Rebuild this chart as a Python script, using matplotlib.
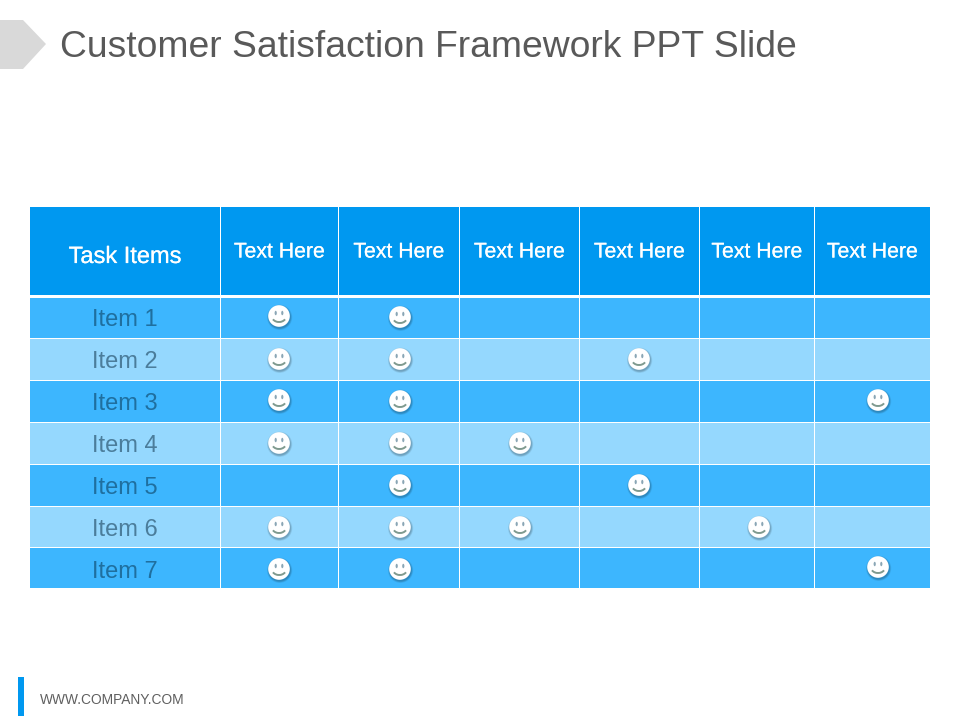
import matplotlib
matplotlib.use("Agg")
import matplotlib.pyplot as plt
import matplotlib.patheffects as pe
from matplotlib.patches import Rectangle, Circle, Polygon, Arc, Ellipse
from matplotlib.colors import to_rgb

plt.rcParams['font.family'] = ['Liberation Sans', 'DejaVu Sans']

title = "Customer Satisfaction Framework PPT Slide"
footer = "WWW.COMPANY.COM"
corner_label = "Task Items"
col_labels = ["Text Here"] * 6
row_labels = ["Item 1", "Item 2", "Item 3", "Item 4", "Item 5", "Item 6", "Item 7"]
# 1 = smiley in that cell
marks = [
    [1, 1, 0, 0, 0, 0],
    [1, 1, 0, 1, 0, 0],
    [1, 1, 0, 0, 0, 1],
    [1, 1, 1, 0, 0, 0],
    [0, 1, 0, 1, 0, 0],
    [1, 1, 1, 0, 1, 0],
    [1, 1, 0, 0, 0, 1],
]

col_edges = [30, 220, 338, 459, 579, 699, 814, 930]
row_edges = [298, 339, 381, 423, 465, 507, 548, 589]
head_top, head_bot = 207, 295
smile_x = [279, 400, 520, 639, 759, 878]
smile_y = [317, 359, 401, 443, 485, 527, 569]
label_y = [318, 360, 402, 444, 486, 528, 570]
smile_nudge = {(0, 0): -1, (2, 0): -1, (2, 5): -1, (6, 5): -2}

C_HEAD = "#0098f0"
C_DARK = "#3db6fe"
C_LIGHT = "#95d8fe"
C_TEXT_DARK = "#1f6f9f"
C_TEXT_LIGHT = "#4b7d9b"

fig = plt.figure(figsize=(9.6, 7.2), dpi=100, facecolor="white")
ax = fig.add_axes([0, 0, 1, 1])
ax.set_xlim(0, 960)
ax.set_ylim(720, 0)
ax.axis("off")

# title marker, title, footer
ax.add_patch(Polygon([(0, 20), (23, 20), (46, 44), (23, 69), (0, 69)], closed=True,
                     fc="#d9d9d9", ec="none"))
ax.text(60, 47.4, title, fontsize=26.8, color="#595959", va="center", ha="left")
ax.add_patch(Rectangle((18, 677), 6, 39, fc=C_HEAD, ec="none"))
ax.text(40, 700, footer, fontsize=9.9, color="#5f5f5f", va="center", ha="left")

bold = [pe.withStroke(linewidth=0.15, foreground="white")]

# header
for i in range(len(col_edges) - 1):
    l, r = col_edges[i], col_edges[i + 1]
    g = 1.4 if i else 0
    ax.add_patch(Rectangle((l + g, head_top), r - l - g, head_bot - head_top, fc=C_HEAD, ec="none"))
    if i == 0:
        ax.text((l + r) / 2, 257, corner_label, color="white", fontsize=17.0,
                ha="center", va="center", path_effects=bold)
    else:
        ax.text((l + r) / 2 + 0.5, 252, col_labels[i - 1], color="white", fontsize=15.3,
                ha="center", va="center", path_effects=bold)


def smiley(cx, cy, bg):
    shadow = tuple(0.62 * c for c in to_rgb(bg))
    for rad, a in [(12.6, 0.18), (11.9, 0.28), (11.2, 0.4)]:
        ax.add_patch(Circle((cx + 0.6, cy + 1.3), rad, fc=shadow, ec="none", alpha=a, zorder=3))
    ax.add_patch(Circle((cx, cy), 10.8, fc="white", ec="none", zorder=4))
    for dx in (-3.3, 3.3):
        ax.add_patch(Ellipse((cx + dx, cy - 3.0), 2.2, 4.4, fc="#8aa6b5", ec="none", zorder=5))
    ax.add_patch(Arc((cx, cy + 0.5), 14, 11, theta1=25, theta2=155, lw=1.4,
                     color="#7f9a8f", zorder=5))


# body rows
for r, label in enumerate(row_labels):
    top, bot = row_edges[r], row_edges[r + 1] - 1
    bg = C_DARK if r % 2 == 0 else C_LIGHT
    for c in range(len(col_edges) - 1):
        l, rr = col_edges[c], col_edges[c + 1]
        g = 1.4 if c else 0
        ax.add_patch(Rectangle((l + g, top), rr - l - g, bot - top, fc=bg, ec="none"))
    ax.text(125, label_y[r] + 1.5, label, color=C_TEXT_DARK if r % 2 == 0 else C_TEXT_LIGHT,
            fontsize=17.0, ha="center", va="center")
    for c, m in enumerate(marks[r]):
        if m:
            smiley(smile_x[c], smile_y[r] + smile_nudge.get((r, c), 0), bg)

fig.savefig("out.png", dpi=100, facecolor="white")
